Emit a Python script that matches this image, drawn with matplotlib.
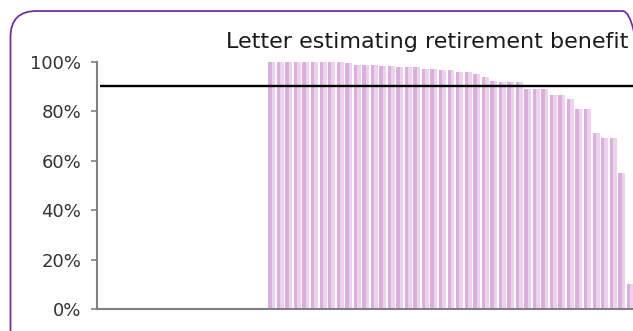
import matplotlib
matplotlib.use("Agg")
import matplotlib.pyplot as plt
from matplotlib.patches import FancyBboxPatch
import numpy as np

# share of recipients (%) per group; first 20 slots are empty
n_empty = 20
shares = [100, 100, 100, 100, 100, 100, 100, 100, 100, 99.6,
          98.8, 98.8, 98.8, 98.4, 98.4, 98.1, 98.0, 97.9, 97.2, 97.0,
          96.9, 96.9, 95.9, 95.9, 95.3, 93.9, 92.3, 91.9, 91.9, 91.9,
          88.9, 88.9, 88.9, 86.8, 86.8, 85.0, 81.0, 81.0, 71.1, 69.1,
          69.1, 54.9, 10.0]
reference_level = 90.3
yticks = [0, 20, 40, 60, 80, 100]
ytick_labels = ["0%", "20%", "40%", "60%", "80%", "100%"]
title = "Letter estimating retirement benefit"

W, H = 633, 331
fig = plt.figure(figsize=(W / 100, H / 100), dpi=100)
plt.rcParams["font.family"] = ["DejaVu Sans"]

# rounded purple frame, running off the right and bottom edges (pixel units)
frame = FancyBboxPatch((10.5, H - 11), 638, -(H - 11) - 30,
                       boxstyle="round,pad=0,rounding_size=26",
                       transform=None, fill=False,
                       edgecolor="#7030a0", linewidth=1.3)
frame.set_bounds(10.5, -30, 638, H - 11 + 30)
fig.patches.append(frame)

left, right = 97 / W, 634.4 / W
bottom, top = 1 - 309 / H, 1 - 62 / H
ax = fig.add_axes([left, bottom, right - left, top - bottom])

x = np.arange(n_empty, n_empty + len(shares))
ax.bar(x, shares, width=0.82, color="#dcaedc", linewidth=0, zorder=2)
ax.bar(x + 0.2, shares, width=0.42, color="#ecd2ec", linewidth=0, zorder=2)

ax.plot([-0.15, n_empty + len(shares)], [reference_level] * 2,
        color="black", lw=1.7, zorder=3, solid_capstyle="butt")

ax.set_xlim(-0.5, n_empty + len(shares) - 0.5)
ax.set_ylim(0, 100)
ax.set_xticks([])
ax.set_yticks(yticks)
ax.set_yticklabels(ytick_labels, fontsize=13, color="#333333")
ax.tick_params(axis="y", length=4.5, width=1.2, color="#808080", pad=7)
for s in ["top", "right"]:
    ax.spines[s].set_visible(False)
for s in ["left", "bottom"]:
    ax.spines[s].set_color("#808080")
    ax.spines[s].set_linewidth(1.5)

fig.text(628 / W, 1 - 42 / H, title, ha="right", va="center",
         fontsize=16, color="#1a1a1a")

fig.savefig("out.png", dpi=100)
